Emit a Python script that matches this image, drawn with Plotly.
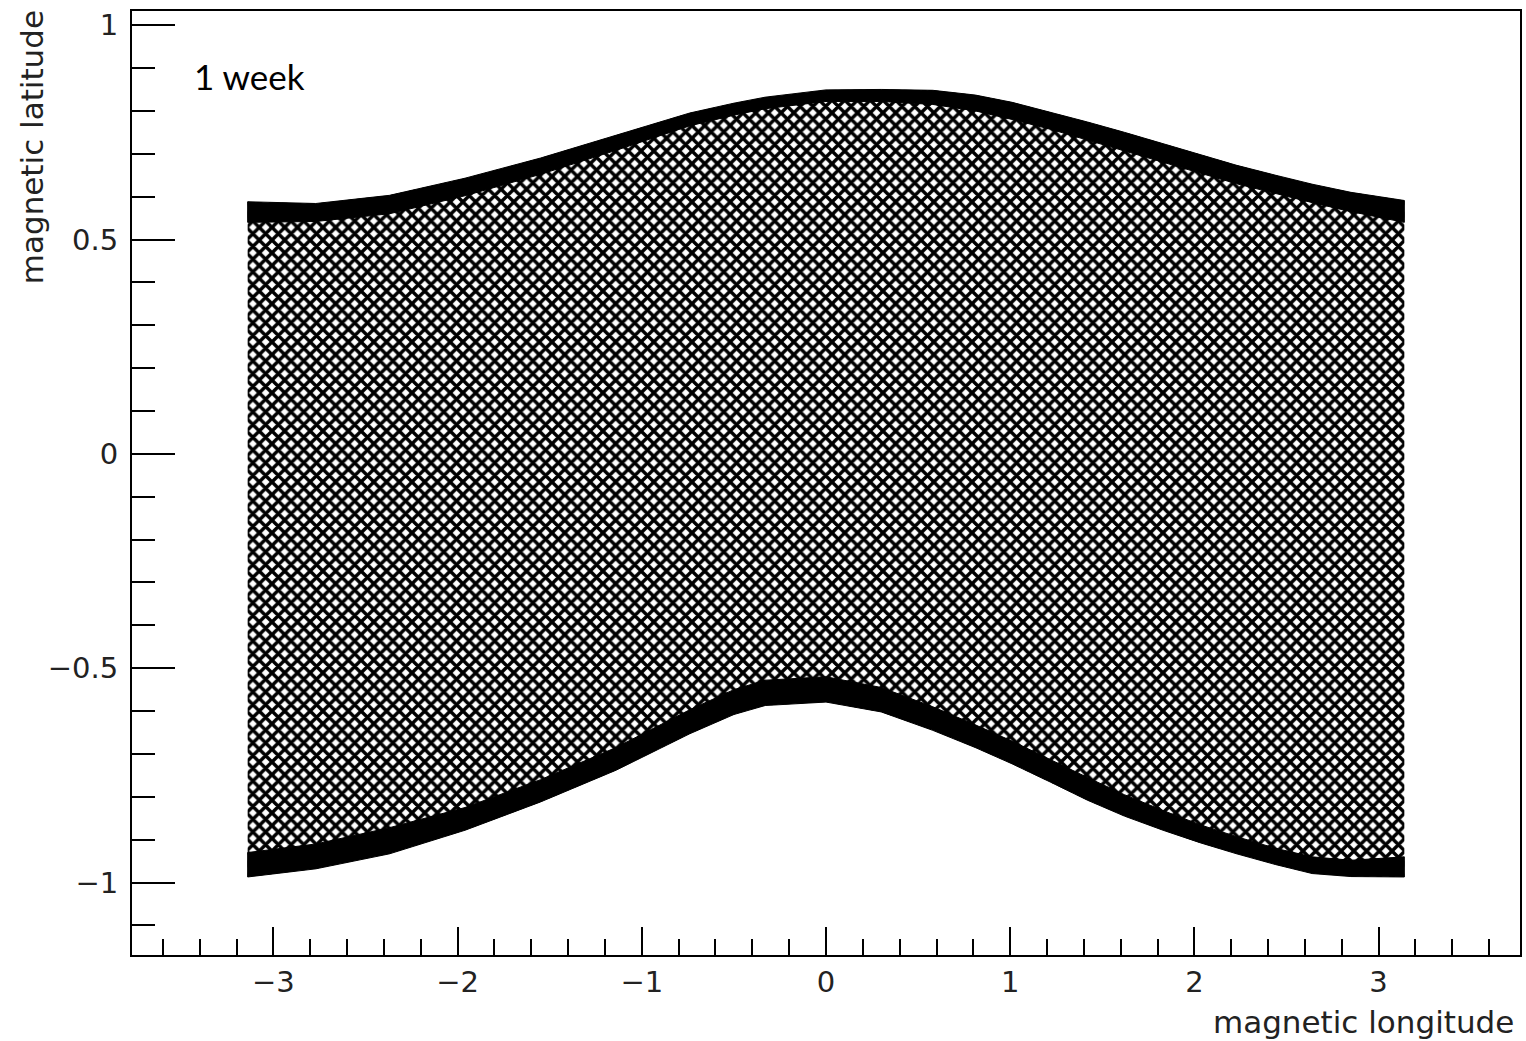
import plotly.graph_objects as go

# Envelope of the 1-week ground track
lon = [-3.14, -2.77, -2.37, -1.96, -1.55, -1.14, -0.74, -0.50, -0.33, 0.0, 0.30,
       0.58, 0.81, 1.01, 1.22, 1.42, 1.62, 1.83, 2.03, 2.23, 2.44, 2.64, 2.85, 3.14]
lat_upper_edge = [0.588, 0.584, 0.603, 0.643, 0.690, 0.743, 0.795, 0.818, 0.832, 0.849, 0.850,
                  0.848, 0.837, 0.820, 0.797, 0.774, 0.750, 0.723, 0.697, 0.673, 0.650, 0.629, 0.610, 0.591]
lat_upper_band = [0.540, 0.542, 0.560, 0.602, 0.652, 0.708, 0.765, 0.790, 0.805, 0.822, 0.822,
                  0.815, 0.800, 0.780, 0.757, 0.733, 0.708, 0.680, 0.655, 0.630, 0.607, 0.586, 0.565, 0.540]
lat_lower_edge = [-0.987, -0.968, -0.933, -0.878, -0.812, -0.738, -0.653, -0.608, -0.587, -0.579, -0.602,
                  -0.645, -0.685, -0.723, -0.766, -0.808, -0.845, -0.878, -0.907, -0.933, -0.958, -0.979, -0.986, -0.987]
lat_lower_band = [-0.930, -0.910, -0.872, -0.825, -0.760, -0.685, -0.597, -0.550, -0.528, -0.520, -0.545,
                  -0.590, -0.632, -0.670, -0.713, -0.755, -0.795, -0.832, -0.865, -0.893, -0.920, -0.940, -0.948, -0.940]

x_range = [-3.768, 3.768]
y_range = [-1.169, 1.033]

fig = go.Figure()

# dense mesh of crossing orbit tracks
fig.add_trace(go.Scatter(
    x=lon + lon[::-1] + [lon[0]],
    y=lat_upper_edge + lat_lower_edge[::-1] + [lat_upper_edge[0]],
    mode="lines", fill="toself", line=dict(width=0, color="black"),
    fillcolor="white",
    fillpattern=dict(shape="x", fgcolor="black", fgopacity=1, bgcolor="white",
                     fillmode="replace", size=9, solidity=0.62),
    hoverinfo="skip", showlegend=False))

# saturated turning-point bands
fig.add_trace(go.Scatter(
    x=lon + lon[::-1] + [lon[0]],
    y=lat_upper_edge + lat_upper_band[::-1] + [lat_upper_edge[0]],
    mode="lines", fill="toself", line=dict(width=1, color="black"),
    fillcolor="black", hoverinfo="skip", showlegend=False))
fig.add_trace(go.Scatter(
    x=lon + lon[::-1] + [lon[0]],
    y=lat_lower_edge + lat_lower_band[::-1] + [lat_lower_edge[0]],
    mode="lines", fill="toself", line=dict(width=1, color="black"),
    fillcolor="black", hoverinfo="skip", showlegend=False))

tick_font = dict(family="DejaVu Sans", size=29, color="#222222")
title_font = dict(family="DejaVu Sans", size=31, color="#222222")

fig.update_layout(
    width=1526, height=1041,
    margin=dict(l=132, r=4, t=11, b=86),
    paper_bgcolor="white", plot_bgcolor="white",
    showlegend=False,
    xaxis=dict(range=x_range, showgrid=False, zeroline=False,
               showline=True, linecolor="black", linewidth=2, mirror=True,
               ticks="inside", ticklen=28, tickwidth=2, tickcolor="black",
               tick0=0, dtick=1, tickfont=tick_font, ticklabelstandoff=0,
               minor=dict(ticks="inside", ticklen=16, tickwidth=2, tickcolor="black",
                          dtick=0.2, tick0=0, showgrid=False)),
    yaxis=dict(range=y_range, showgrid=False, zeroline=False,
               showline=True, linecolor="black", linewidth=2, mirror=True,
               ticks="inside", ticklen=43, tickwidth=2, tickcolor="black",
               tick0=0, dtick=0.5, tickfont=tick_font, ticklabelstandoff=6,
               minor=dict(ticks="inside", ticklen=23, tickwidth=2, tickcolor="black",
                          dtick=0.1, tick0=0, showgrid=False)),
    annotations=[
        dict(text="magnetic latitude", xref="paper", yref="paper",
             x=-0.072, y=1.003, xanchor="center", yanchor="top", textangle=-90,
             showarrow=False, font=title_font),
        dict(text="magnetic longitude", xref="paper", yref="paper",
             x=0.997, y=-0.071, xanchor="right", yanchor="middle",
             showarrow=False, font=title_font),
        dict(text="1 week", xref="paper", yref="paper",
             x=0.043, y=0.931, xanchor="left", yanchor="middle",
             showarrow=False, font=dict(family="Lato", size=35, color="black")),
    ],
)

fig.write_html("out.html")
